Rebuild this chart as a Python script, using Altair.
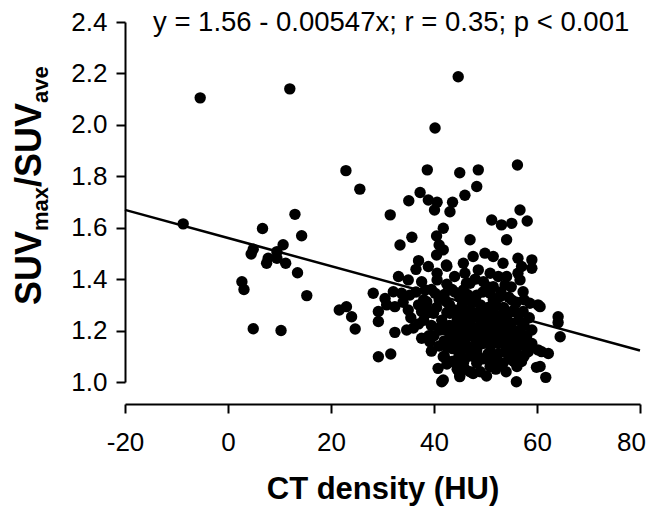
import altair as alt
import pandas as pd

# CT density (HU) and SUVmax/SUVave
ct_density = [
    -8.7, -5.4, 12.0, 44.7, 40.2,
    6.7, 13.0, 14.3, 10.7, 4.9, 4.5, 9.5, 7.8, 7.5, 9.5, 11.2, 13.5, 2.7, 3.1, 15.3, 21.6, 4.9, 10.3,
    22.9, 25.6, 38.7, 45.0, 37.3, 35.1, 38.9, 40.6, 40.1, 43.6, 43.1, 46.0, 31.5, 35.7, 33.4, 40.5,
    41.8, 41.0, 41.8, 47.0, 40.5, 37.0, 42.4, 38.9, 36.5, 40.6, 33.1, 35.0, 40.6, 46.0, 37.6, 32.1,
    28.2, 33.7, 35.3, 38.3, 40.2, 42.4, 30.5, 30.8, 32.4, 38.6, 37.6, 35.0, 29.2, 29.2, 39.9, 43.1,
    44.7, 23.0, 24.0, 24.7, 32.4, 34.7, 37.0, 37.6, 39.2, 41.2, 43.1, 44.7, 42.4, 44.4, 41.8, 44.4,
    40.8, 45.0, 41.5, 29.2, 31.6, 45.7, 46.3, 46.0, 46.7,
    56.2, 48.6, 48.3, 56.7, 58.1, 51.2, 53.1, 55.1, 54.1, 47.6, 49.9, 51.5, 56.3, 59.0, 59.0, 57.0,
    53.4, 48.6, 50.9, 54.1, 56.3, 47.0, 49.6, 51.5, 53.8, 56.7, 57.3, 45.7, 48.3, 50.9, 52.8, 55.1,
    58.6, 60.2, 64.1, 64.5, 57.3, 46.3, 48.9, 51.5, 54.1, 47.0, 49.6, 52.2, 55.1, 56.7, 59.0, 45.0,
    47.6, 50.2, 52.8, 55.4, 57.7, 45.7, 48.3, 50.9, 53.8, 56.1, 58.3, 60.2, 62.2, 45.7, 48.3, 50.9,
    53.4, 56.1, 59.9, 61.7, 56.0, 45.0, 41.8, 50.2, 47.6,
    60.6, 64.1, 60.9, 60.6,
    42.5, 44.0, 45.5, 47.5, 49.0, 50.5, 52.0, 53.5, 55.5, 41.0, 43.0, 44.5, 46.0, 47.5, 49.0, 50.5,
    52.0, 53.5, 55.0, 56.5, 41.5, 43.0, 44.0, 45.5, 47.0, 48.5, 50.0, 51.5, 53.0, 54.5, 56.0, 58.0,
    40.0, 42.0, 43.5, 45.0, 46.5, 48.0, 49.5, 51.0, 52.5, 54.0, 55.5, 57.5, 42.0, 43.5, 46.0, 47.5,
    49.5, 51.5, 54.5, 57.0, 44.5, 47.0, 49.0, 52.0, 54.0, 44.0, 48.0, 50.5, 52.5, 55.0, 42.5, 38.5,
    39.5, 38.0, 39.0, 36.0, 35.5, 34.0,
    42.0, 43.5, 45.0, 46.5, 48.0, 49.5, 51.5, 53.0, 54.5, 56.0, 57.5,
    42.5, 44.0, 45.5, 47.0, 48.5, 50.0, 51.5, 53.0, 54.5, 56.0, 58.5,
    42.5, 44.0, 46.0, 48.0, 49.5, 51.0, 52.5, 54.0, 57.5,
    41.0, 44.0, 46.0, 49.0, 51.5, 53.5, 56.5, 59.0,
    42.5, 45.0, 47.0, 48.5, 50.5, 52.5, 55.0, 57.5, 53.0, 55.5, 46.0, 51.0,
    39.0, 38.0, 39.5, 37.0, 36.5, 40.5, 41.0, 39.5,
]
suv_ratio = [
    1.615, 2.105, 2.140, 2.187, 1.988,
    1.597, 1.652, 1.569, 1.534, 1.516, 1.498, 1.507, 1.481, 1.462, 1.481, 1.462, 1.425, 1.390, 1.360, 1.336, 1.280, 1.207, 1.200,
    1.822, 1.750, 1.825, 1.814, 1.737, 1.705, 1.708, 1.699, 1.669, 1.699, 1.662, 1.726, 1.650, 1.563, 1.533, 1.568,
    1.598, 1.533, 1.514, 1.553, 1.494, 1.472, 1.455, 1.449, 1.438, 1.423, 1.410, 1.397, 1.397, 1.423, 1.390, 1.351,
    1.345, 1.345, 1.338, 1.358, 1.345, 1.312, 1.325, 1.300, 1.293, 1.312, 1.274, 1.280, 1.274, 1.235, 1.267, 1.267,
    1.274, 1.293, 1.254, 1.206, 1.193, 1.202, 1.226, 1.170, 1.157, 1.202, 1.170, 1.202, 1.137, 1.125, 1.098, 1.086,
    1.053, 1.021, 1.001, 1.098, 1.109, 1.462, 1.384, 1.319, 1.254,
    1.844, 1.825, 1.760, 1.669, 1.626, 1.630, 1.611, 1.617, 1.553, 1.488, 1.501, 1.488, 1.481, 1.475, 1.442, 1.449,
    1.462, 1.436, 1.423, 1.410, 1.423, 1.384, 1.390, 1.371, 1.377, 1.397, 1.351, 1.358, 1.338, 1.345, 1.332, 1.319,
    1.306, 1.300, 1.254, 1.176, 1.274, 1.274, 1.274, 1.261, 1.254, 1.228, 1.215, 1.222, 1.209, 1.202, 1.202, 1.196,
    1.176, 1.170, 1.176, 1.163, 1.170, 1.131, 1.125, 1.118, 1.118, 1.111, 1.118, 1.125, 1.111, 1.073, 1.073, 1.060,
    1.073, 1.060, 1.057, 1.018, 1.001, 1.027, 1.008, 1.023, 1.033,
    1.293, 1.231, 1.118, 1.060,
    1.38, 1.35, 1.30, 1.31, 1.30, 1.29, 1.30, 1.29, 1.28, 1.32, 1.30, 1.24, 1.23, 1.25, 1.24, 1.23,
    1.24, 1.23, 1.23, 1.24, 1.24, 1.22, 1.19, 1.18, 1.19, 1.18, 1.19, 1.18, 1.19, 1.18, 1.19, 1.18,
    1.18, 1.16, 1.13, 1.15, 1.14, 1.14, 1.15, 1.14, 1.15, 1.14, 1.13, 1.14, 1.10, 1.08, 1.09, 1.10,
    1.09, 1.09, 1.09, 1.08, 1.05, 1.04, 1.04, 1.05, 1.04, 1.41, 1.40, 1.37, 1.41, 1.37, 1.45, 1.30,
    1.22, 1.24, 1.18, 1.21, 1.25, 1.31,
    1.34, 1.36, 1.33, 1.34, 1.32, 1.35, 1.32, 1.35, 1.33, 1.31, 1.32,
    1.27, 1.28, 1.26, 1.28, 1.27, 1.26, 1.28, 1.26, 1.27, 1.27, 1.25,
    1.20, 1.21, 1.20, 1.21, 1.20, 1.21, 1.20, 1.21, 1.22,
    1.14, 1.16, 1.17, 1.16, 1.16, 1.16, 1.15, 1.15,
    1.07, 1.11, 1.12, 1.10, 1.11, 1.11, 1.11, 1.10, 1.07, 1.08, 1.05, 1.07,
    1.27, 1.32, 1.36, 1.30, 1.35, 1.29, 1.21, 1.12,
]

intercept = 1.56
slope = -0.00547
x_ticks = [-20, 0, 20, 40, 60, 80]
y_ticks = [1.0, 1.2, 1.4, 1.6, 1.8, 2.0, 2.2, 2.4]
annotation = "y = 1.56 - 0.00547x; r = 0.35; p < 0.001"
x_title = "CT density (HU)"

FONT = "Liberation Sans"

pts = pd.DataFrame({"ct": ct_density, "suv": suv_ratio})
line_x = [x_ticks[0], x_ticks[-1]]
fit = pd.DataFrame({"ct": line_x, "suv": [intercept + slope * v for v in line_x]})

x_scale = alt.Scale(domain=[x_ticks[0], x_ticks[-1]], nice=False, zero=False)
y_scale = alt.Scale(domain=[y_ticks[0], y_ticks[-1]], nice=False, zero=False)

x_axis = alt.Axis(values=x_ticks, labelExpr="'' + datum.value", offset=22, tickSize=9, tickWidth=2,
                  domainWidth=2, labelFontSize=26, labelPadding=16, labelFont=FONT, labelColor="black",
                  labelOffset={"condition": {"test": "datum.value == 80", "value": -9}, "value": 0},
                  title=x_title, titleFontSize=31, titleFont=FONT, titleFontWeight="bold",
                  titlePadding=19, titleColor="black", domainColor="black", tickColor="black",
                  grid=False, labelFlush=False)
y_axis = alt.Axis(values=y_ticks, format=".1f", tickSize=9, tickWidth=2, domainWidth=2,
                  labelFontSize=26, labelPadding=9, labelFont=FONT, labelColor="black",
                  title=None, domainColor="black", tickColor="black", grid=False, labelFlush=False)

points = alt.Chart(pts).mark_circle(size=130, color="black", opacity=1).encode(
    x=alt.X("ct:Q", scale=x_scale, axis=x_axis),
    y=alt.Y("suv:Q", scale=y_scale, axis=y_axis),
)

reg = alt.Chart(fit).mark_line(color="black", strokeWidth=2.5).encode(
    x=alt.X("ct:Q", scale=x_scale),
    y=alt.Y("suv:Q", scale=y_scale),
)

one = pd.DataFrame({"k": [0]})


def label(txt, x, y, size, weight="normal", angle=0):
    kw = dict(font=FONT, fontSize=size, fontWeight=weight, color="black",
              align="left", baseline="alphabetic", text=txt)
    if angle:
        kw["angle"] = angle
    return alt.Chart(one).mark_text(**kw).encode(x=alt.value(x), y=alt.value(y))


note = label(annotation, 28, 9, 27.5)

# rotated y title with subscripts: SUV_max / SUV_ave
big, small = 36, 22
xb, xs = -84, -77
y_title = [
    label("SUV", xb, 283, big, "bold", 270),
    label("max", xs, 209, small, "bold", 270),
    label("/", xb, 165, big, "bold", 270),
    label("SUV", xb, 155, big, "bold", 270),
    label("ave", xs, 81, small, "bold", 270),
]

chart = alt.layer(points, reg, note, *y_title).properties(
    width=515, height=360,
    autosize=alt.AutoSizeParams(type="none"),
    padding={"left": 125, "top": 22, "right": 12, "bottom": 124},
    background="white",
).configure_view(strokeWidth=0)

chart.save("out.html", embed_options={"renderer": "svg", "actions": False})
